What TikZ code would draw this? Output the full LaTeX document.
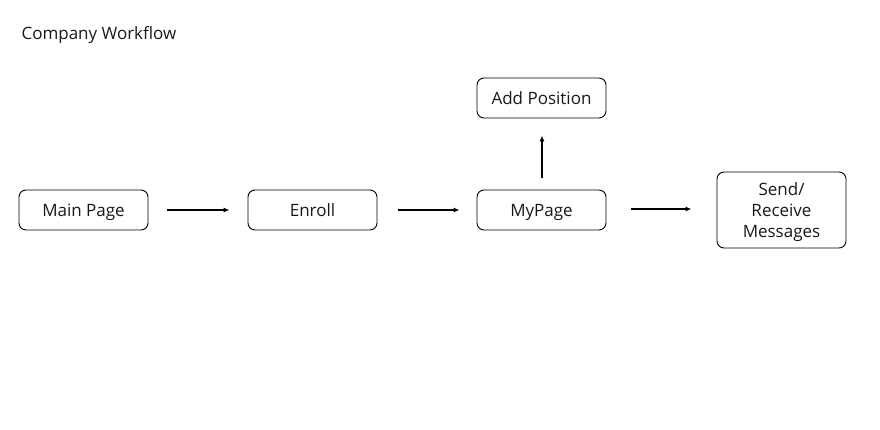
\documentclass[tikz,border=0pt]{standalone}
\usepackage{fontspec}
\setmainfont{Open Sans}
\usetikzlibrary{arrows.meta}
\begin{document}
\begin{tikzpicture}[x=1pt,y=-1pt,
  box/.style={draw=black, line width=0.9pt, rounded corners=7pt, minimum width=129pt, minimum height=40pt, inner sep=0pt, font=\fontsize{17}{21}\selectfont, align=center, text=black!90},
  one/.style={text height=14pt, text depth=1.5pt},
  txt/.style={inner sep=0pt, font=\fontsize{17}{21}\selectfont, align=center, text=black!90},
  conn/.style={line width=1.5pt, -{Latex[length=6pt,width=5pt]}}]
\useasboundingbox[fill=white] (0,0) rectangle (880,430);
\node[anchor=west, font=\fontsize{17}{20}\selectfont, text=black!90] (title) at (18,35) {Company Workflow};
\node[box, one] (main) at (83.5,210) {Main Page};
\node[box, one] (enroll) at (312.5,210) {Enroll};
\node[box, one] (mypage) at (541.5,210) {MyPage};
\node[box, one] (addpos) at (541.5,98) {Add Position};
\node[box, minimum height=76pt] (send) at (781.5,210) {};
\node[txt] (sendtext) at (781.5,212) {Send/\\Receive\\Messages};
\draw[conn, shorten <=19pt, shorten >=18pt] (main.east) -- (enroll.west);
\draw[conn, shorten <=21pt, shorten >=17pt] (enroll.east) -- (mypage.west);
\draw[conn, shorten <=25pt, shorten >=25pt] ([yshift=1pt]mypage.east) -- ([yshift=1pt]send.west);
\draw[conn, shorten <=12pt, shorten >=17pt] ([xshift=0.5pt]mypage.north) -- ([xshift=0.5pt]addpos.south);
\end{tikzpicture}
\end{document}
